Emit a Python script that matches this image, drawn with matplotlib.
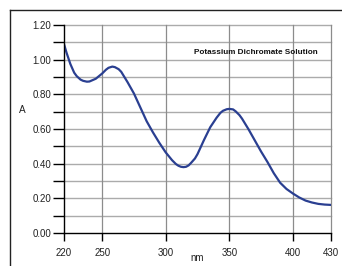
import matplotlib
matplotlib.use("Agg")
import matplotlib.pyplot as plt
from matplotlib.lines import Line2D

plt.rcParams['font.family'] = ['Liberation Sans', 'DejaVu Sans']

wavelength = [220, 222, 225, 228, 230, 233, 235, 238, 240, 245, 250, 253, 255, 258, 260,
              263, 265, 270, 275, 280, 285, 290, 295, 300, 305, 308, 310, 312, 314, 316,
              318, 320, 323, 325, 330, 335, 340, 343, 345, 348, 350, 353, 355, 358, 360,
              365, 370, 375, 380, 385, 390, 395, 400, 405, 410, 415, 420, 425, 430]
absorbance = [1.09, 1.04, 0.975, 0.925, 0.905, 0.885, 0.878, 0.873, 0.874, 0.89, 0.92,
              0.942, 0.953, 0.96, 0.957, 0.945, 0.93, 0.87, 0.805, 0.725, 0.645, 0.58,
              0.52, 0.465, 0.42, 0.398, 0.388, 0.382, 0.38, 0.382, 0.39, 0.405, 0.43,
              0.455, 0.535, 0.61, 0.665, 0.693, 0.705, 0.714, 0.716, 0.713, 0.702, 0.68,
              0.66, 0.60, 0.535, 0.47, 0.41, 0.345, 0.29, 0.254, 0.228, 0.205, 0.187,
              0.176, 0.168, 0.164, 0.162]

x_ticks = [220, 250, 300, 350, 400, 430]
y_major = [0.0, 0.2, 0.4, 0.6, 0.8, 1.0, 1.2]
y_minor = [0.1, 0.3, 0.5, 0.7, 0.9, 1.1]
y_labels = ["0.00", "0.20", "0.40", "0.60", "0.80", "1.00", "1.20"]
title = "Potassium Dichromate Solution"

W, H = 342, 266
fig = plt.figure(figsize=(W / 100, H / 100), dpi=100)
fig.patch.set_facecolor('white')

# outer frame
fig.add_artist(Line2D([9.5 / W, 9.5 / W], [0, 1 - 10 / H], transform=fig.transFigure,
                      color='#222222', lw=1.0))
fig.add_artist(Line2D([9.5 / W, 1], [1 - 10 / H, 1 - 10 / H], transform=fig.transFigure,
                      color='#222222', lw=1.0))

ax = fig.add_axes([64 / W, 1 - 233 / H, (331 - 64) / W, (233 - 25) / H])
ax.set_xlim(220, 430)
ax.set_ylim(0, 1.2)

# grid
for yv in y_major[1:] + y_minor:
    ax.axhline(yv, color='#ababab', lw=1.0, zorder=1, clip_on=False)
for xv in x_ticks[1:]:
    ax.axvline(xv, color='#8c8c8c', lw=0.9, zorder=1, clip_on=False)

ax.plot(wavelength, absorbance, color='#2a3f91', lw=1.6, zorder=3,
        solid_capstyle='round', solid_joinstyle='round')

for s in ['top', 'right']:
    ax.spines[s].set_visible(False)
ax.spines['left'].set_color('black')
ax.spines['bottom'].set_color('black')
ax.spines['left'].set_linewidth(1.0)
ax.spines['bottom'].set_linewidth(1.0)
ax.spines['left'].set_zorder(4)
ax.spines['bottom'].set_zorder(4)

ax.set_xticks(x_ticks)
ax.set_xticklabels([str(v) for v in x_ticks])
ax.set_yticks(y_major)
ax.set_yticklabels(y_labels)
ax.set_yticks(y_minor, minor=True)
ax.tick_params(axis='x', direction='out', length=6, width=1.0, color='black',
               labelsize=7, labelcolor='#222222', pad=5)
ax.tick_params(axis='y', which='both', direction='out', length=8, width=1.0,
               color='black', labelsize=7, labelcolor='#222222', pad=1)

ax.text(371, 1.04, title, fontsize=5.9, fontweight='bold', ha='center', va='center',
        color='#111111', zorder=5)

fig.text(22 / W, 1 - 110 / H, "A", fontsize=7.2, ha='center', va='center', color='#222222')
fig.text(197 / W, 1 - 258 / H, "nm", fontsize=7, ha='center', va='center', color='#222222')

fig.savefig("out.png", dpi=100)
